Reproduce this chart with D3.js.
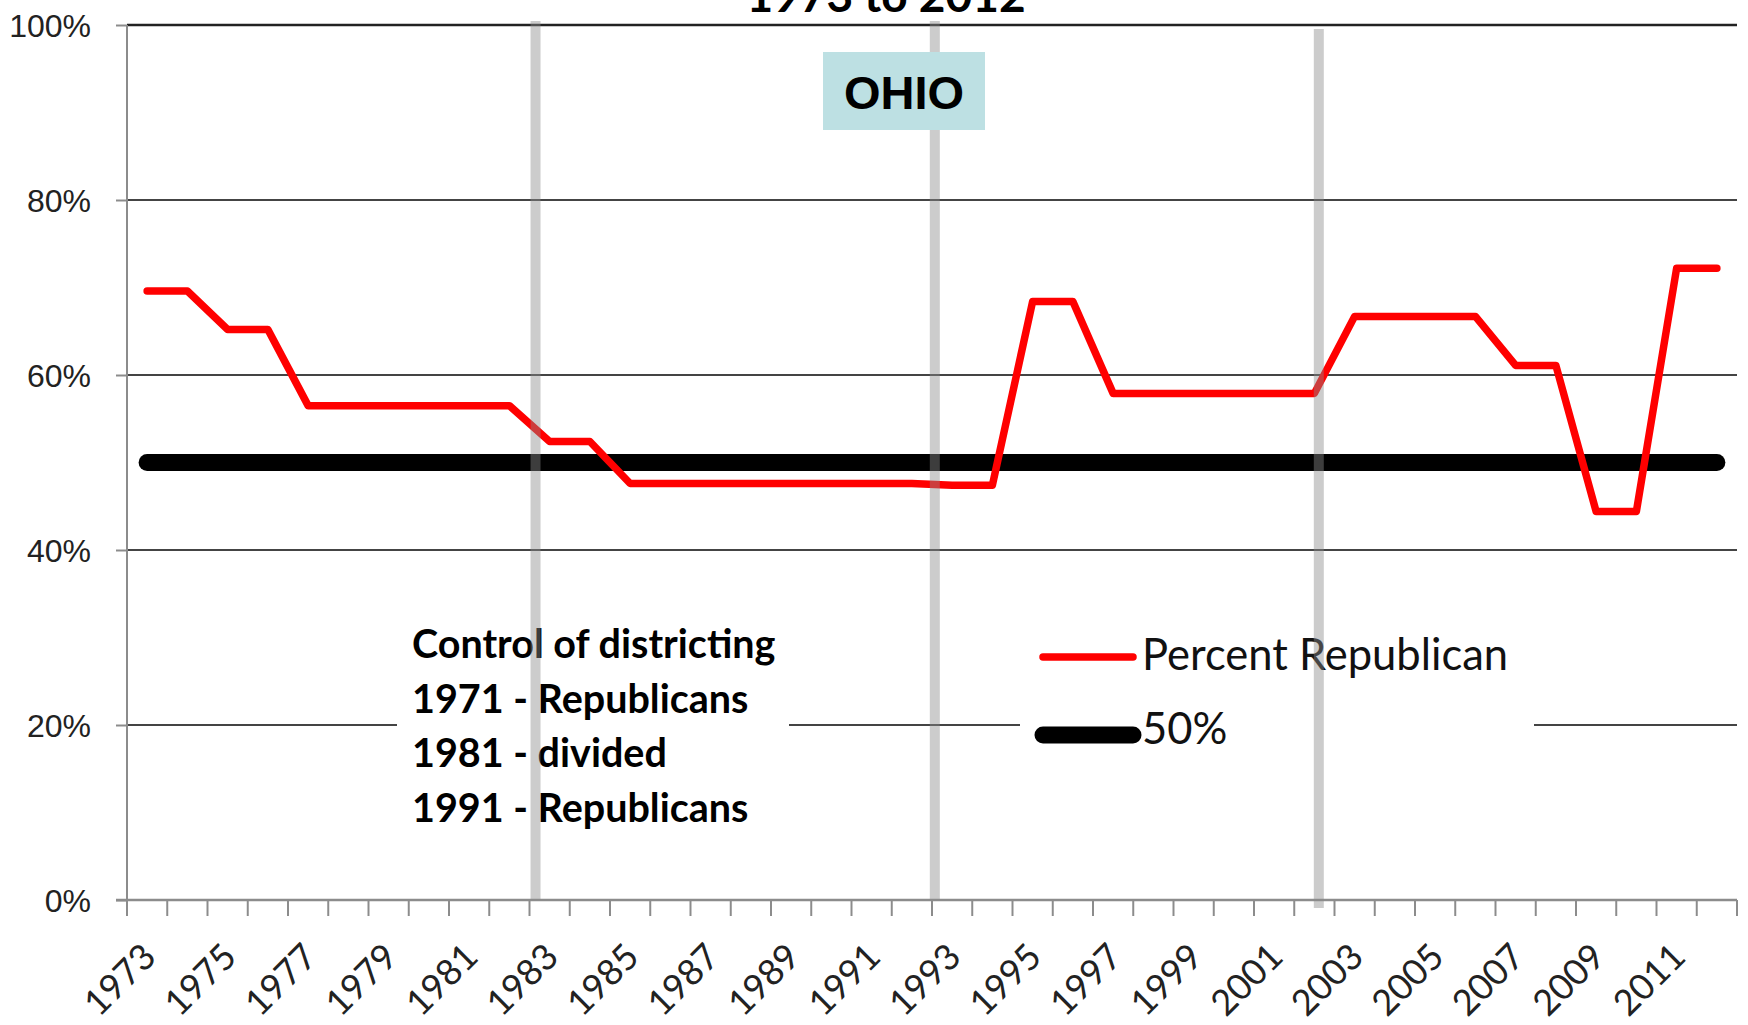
<!DOCTYPE html>
<html>
<head>
<meta charset="utf-8">
<title>Ohio - Percent Republican</title>
<script src="https://cdn.jsdelivr.net/npm/d3@7/dist/d3.min.js"></script>
<style>
	body { margin: 0; background: #fff; }
	svg { display: block; }
	.y-label { font-family: "Liberation Sans", Arial, sans-serif; font-size: 32px; fill: #222; }
	.x-label { font-family: Lato, "Open Sans", sans-serif; font-size: 36px; fill: #222; }
	.legend-text { font-family: Lato, "Open Sans", sans-serif; font-size: 43.5px; fill: #111; }
	.note { font-family: Lato, "Open Sans", sans-serif; font-size: 39.5px; font-weight: bold; fill: #000; }
	.title { font-family: Lato, "Open Sans", sans-serif; font-size: 46px; font-weight: bold; fill: #000; }
	.state { font-family: "Liberation Sans", Arial, sans-serif; font-size: 47px; font-weight: bold; fill: #000; }
</style>
</head>
<body>
<div id="chart-area"></div>
<script>

// categories (one per year)
const years = [1973, 1974, 1975, 1976, 1977, 1978, 1979, 1980, 1981, 1982,
	1983, 1984, 1985, 1986, 1987, 1988, 1989, 1990, 1991, 1992,
	1993, 1994, 1995, 1996, 1997, 1998, 1999, 2000, 2001, 2002,
	2003, 2004, 2005, 2006, 2007, 2008, 2009, 2010, 2011, 2012];

// share of Ohio House seats held by Republicans
const percentRepublican = [0.696, 0.696, 0.652, 0.652, 0.565, 0.565, 0.565, 0.565, 0.565, 0.565,
	0.524, 0.524, 0.476, 0.476, 0.476, 0.476, 0.476, 0.476, 0.476, 0.476,
	0.474, 0.474, 0.684, 0.684, 0.579, 0.579, 0.579, 0.579, 0.579, 0.579,
	0.667, 0.667, 0.667, 0.667, 0.611, 0.611, 0.444, 0.444, 0.722, 0.722];

// reference line
const fiftyPercent = [0.5, 0.5, 0.5, 0.5, 0.5, 0.5, 0.5, 0.5, 0.5, 0.5,
	0.5, 0.5, 0.5, 0.5, 0.5, 0.5, 0.5, 0.5, 0.5, 0.5,
	0.5, 0.5, 0.5, 0.5, 0.5, 0.5, 0.5, 0.5, 0.5, 0.5,
	0.5, 0.5, 0.5, 0.5, 0.5, 0.5, 0.5, 0.5, 0.5, 0.5];

const yTicks = [0, 0.2, 0.4, 0.6, 0.8, 1];
const yTickLabels = ["0%", "20%", "40%", "60%", "80%", "100%"];

// redistricting markers (position in years)
const redistricting = [1982.65, 1992.57, 2002.11];

const seriesNames = ["Percent Republican", "50%"];
const notes = ["Control of districting", "1971 - Republicans", "1981 - divided", "1991 - Republicans"];
const title = "1973 to 2012";
const stateName = "OHIO";


class LineChart {

	constructor(parentElement) {
		this.parentElement = parentElement;
		this.data = years.map((y, i) => ({year: y, rep: percentRepublican[i], half: fiftyPercent[i]}));
		this.initVis();
	}

	initVis() {
		let vis = this;

		vis.margin = {top: 25, right: 11, bottom: 125, left: 127};
		vis.width = 1748 - vis.margin.left - vis.margin.right;
		vis.height = 1025 - vis.margin.top - vis.margin.bottom;

		vis.root = d3.select("#" + vis.parentElement).append("svg")
			.attr("width", 1748)
			.attr("height", 1025);

		// layers: plot, boxes (legend / note), markers on top
		vis.svg = vis.root.append("g")
			.attr("transform", "translate(" + vis.margin.left + "," + vis.margin.top + ")");
		vis.boxes = vis.root.append("g");
		vis.top = vis.root.append("g")
			.attr("transform", "translate(" + vis.margin.left + "," + vis.margin.top + ")");
		vis.labels = vis.root.append("g");

		// scales
		vis.x = d3.scaleBand()
			.domain(years)
			.range([0, vis.width]);
		vis.xYear = d3.scaleLinear()
			.domain([years[0] - 0.5, years[years.length - 1] + 0.5])
			.range([0, vis.width]);
		vis.y = d3.scaleLinear()
			.domain([0, 1])
			.range([vis.height, 0]);

		vis.updateVis();
	}

	updateVis() {
		let vis = this;
		let cx = d => vis.x(d.year) + vis.x.bandwidth() / 2;

		// gridlines
		vis.svg.selectAll(".grid")
			.data(yTicks.filter(d => d > 0))
			.enter().append("line")
			.attr("class", "grid")
			.attr("x1", 0).attr("x2", vis.width)
			.attr("y1", d => vis.y(d)).attr("y2", d => vis.y(d))
			.attr("stroke", d => d === 1 ? "#222" : "#444")
			.attr("stroke-width", d => d === 1 ? 2.5 : 1.8);

		// y axis
		let yAxis = d3.axisLeft(vis.y)
			.tickValues(yTicks)
			.tickFormat((d, i) => yTickLabels[i])
			.tickSize(11)
			.tickPadding(25);
		let yg = vis.svg.append("g").attr("class", "y-axis").call(yAxis);
		yg.select(".domain").attr("stroke", "#8c8c8c").attr("stroke-width", 2).attr("d", "M0," + vis.height + "V0");
		yg.selectAll(".tick line").attr("stroke", "#8c8c8c").attr("stroke-width", 2);
		yg.selectAll(".tick text").attr("class", "y-label").attr("dy", "0.36em");

		// x axis, ticks between categories
		let xg = vis.svg.append("g")
			.attr("class", "x-axis")
			.attr("transform", "translate(0," + vis.height + ")");
		xg.append("line")
			.attr("x1", -11).attr("x2", vis.width)
			.attr("stroke", "#8c8c8c").attr("stroke-width", 2.5);
		xg.selectAll(".xtick")
			.data(years.concat([years[years.length - 1] + 1]))
			.enter().append("line")
			.attr("class", "xtick")
			.attr("x1", (d, i) => i < years.length ? vis.x(d) : vis.width)
			.attr("x2", (d, i) => i < years.length ? vis.x(d) : vis.width)
			.attr("y1", 0).attr("y2", 16)
			.attr("stroke", "#8c8c8c").attr("stroke-width", 2);
		xg.selectAll(".x-label")
			.data(vis.data.filter((d, i) => i % 2 === 0))
			.enter().append("text")
			.attr("class", "x-label")
			.attr("text-anchor", "end")
			.attr("dy", "0.35em")
			.attr("transform", d => "translate(" + (cx(d) + 2) + ",50) rotate(-45)")
			.text(d => d.year);

		// data lines
		let lineHalf = d3.line().x(cx).y(d => vis.y(d.half));
		let lineRep = d3.line().x(cx).y(d => vis.y(d.rep));

		vis.svg.append("path")
			.datum(vis.data)
			.attr("d", lineHalf)
			.attr("fill", "none")
			.attr("stroke", "#000")
			.attr("stroke-width", 17)
			.attr("stroke-linecap", "round");

		vis.svg.append("path")
			.datum(vis.data)
			.attr("d", lineRep)
			.attr("fill", "none")
			.attr("stroke", "#ff0000")
			.attr("stroke-width", 7.5)
			.attr("stroke-linecap", "round")
			.attr("stroke-linejoin", "round");

		// annotation box
		vis.boxes.append("rect")
			.attr("x", 397).attr("y", 612)
			.attr("width", 392).attr("height", 230)
			.attr("fill", "#fff");
		vis.boxes.selectAll(".note")
			.data(notes)
			.enter().append("text")
			.attr("class", "note")
			.attr("x", 412)
			.attr("y", (d, i) => 658 + i * 54.7)
			.text(d => d);

		// legend
		vis.boxes.append("rect")
			.attr("x", 1020).attr("y", 615)
			.attr("width", 514).attr("height", 160)
			.attr("fill", "#fff");
		let items = vis.boxes.selectAll(".item")
			.data(seriesNames)
			.enter().append("g")
			.attr("class", "item")
			.attr("transform", (d, i) => "translate(1043," + (657 + i * 78) + ")");
		items.append("line")
			.attr("x1", 0).attr("x2", 90)
			.attr("stroke", (d, i) => i === 0 ? "#ff0000" : "#000")
			.attr("stroke-width", (d, i) => i === 0 ? 7.5 : 17)
			.attr("stroke-linecap", "round");
		items.append("text")
			.attr("class", "legend-text")
			.attr("x", 99)
			.attr("y", (d, i) => i === 0 ? 13 : 9)
			.text(d => d);

		// redistricting markers, drawn over everything
		vis.top.selectAll(".redistrict")
			.data(redistricting)
			.enter().append("line")
			.attr("class", "redistrict")
			.attr("x1", d => vis.xYear(d)).attr("x2", d => vis.xYear(d))
			.attr("y1", (d, i) => i === 2 ? 4 : -4)
			.attr("y2", (d, i) => i === 2 ? vis.height + 8 : vis.height)
			.attr("stroke", "#8a8a8a")
			.attr("stroke-opacity", 0.44)
			.attr("stroke-width", 10);

		// state label
		vis.labels.append("rect")
			.attr("x", 823).attr("y", 52)
			.attr("width", 162).attr("height", 78)
			.attr("fill", "#bde0e3");
		vis.labels.append("text")
			.attr("class", "state")
			.attr("x", 904).attr("y", 109)
			.attr("text-anchor", "middle")
			.text(stateName);

		// title (mostly outside the picture, as in the source)
		vis.labels.append("text")
			.attr("class", "title")
			.attr("x", 886).attr("y", 12)
			.attr("text-anchor", "middle")
			.text(title);
	}
}

new LineChart("chart-area");

</script>
</body>
</html>
